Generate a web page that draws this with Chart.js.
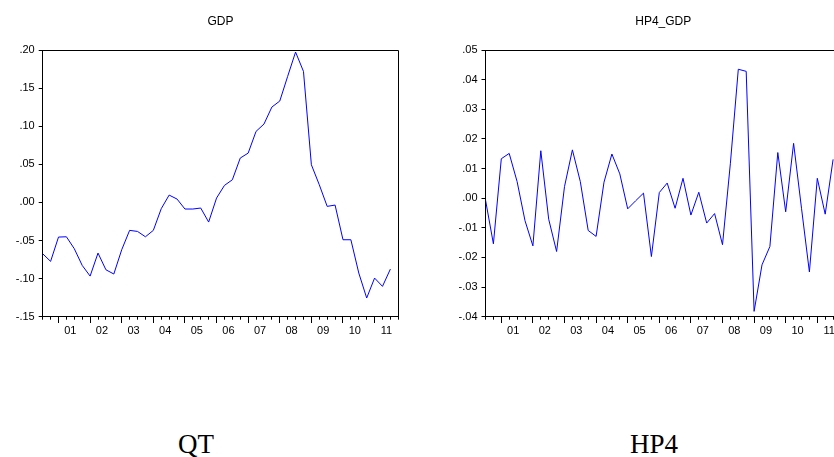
<!DOCTYPE html>
<html>
<head>
<meta charset="utf-8">
<script src="https://cdn.jsdelivr.net/npm/chart.js@4"></script>
<style>
  html, body { margin: 0; padding: 0; background: #fff; width: 834px; height: 457px; overflow: hidden; position: relative; }
  canvas { position: absolute; top: 0; }
  #cGdp { left: 0; }
  #cHp { left: 440px; }
  .cap { position: absolute; top: 431px; width: 120px; text-align: center; font-family: "Liberation Serif", "Times New Roman", serif; font-size: 27px; line-height: 1; color: #000; }
</style>
</head>
<body>
<canvas id="cGdp" width="420" height="345"></canvas>
<canvas id="cHp" width="440" height="345"></canvas>
<div class="cap" style="left:136px">QT</div>
<div class="cap" style="left:594px">HP4</div>
<script>
// quarters 2000Q3 .. 2011Q3, x axis runs one extra slot to 2011Q4
const quarters = [];
for (let y = 2000; y <= 2011; y++) for (let q = 1; q <= 4; q++) {
  if ((y === 2000 && q < 3) || (y === 2011 && q > 3)) continue;
  quarters.push(y + 'Q' + q);
}
const yearLabels = ['01', '02', '03', '04', '05', '06', '07', '08', '09', '10', '11'];

const gdp = [
  -0.0674, -0.0774, -0.0455, -0.0451, -0.0608, -0.0827, -0.0967, -0.0665,
  -0.0884, -0.0940, -0.0621, -0.0367, -0.0381, -0.0451, -0.0367, -0.0083,
  0.0096, 0.0044, -0.0087, -0.0087, -0.0074, -0.0258, 0.0057, 0.0223,
  0.0297, 0.0582, 0.0647, 0.0932, 0.1028, 0.1251, 0.1330, 0.1654,
  0.1973, 0.1719, 0.0494, 0.0232, -0.0052, -0.0035, -0.0490, -0.0490,
  -0.0927, -0.1255, -0.0993, -0.1102, -0.0875
];
const hp4 = [
  -0.0006, -0.0154, 0.0133, 0.0151, 0.0056, -0.0076, -0.0161, 0.0160,
  -0.0071, -0.0180, 0.0039, 0.0163, 0.0056, -0.0109, -0.0129, 0.0054,
  0.0149, 0.0082, -0.0036, -0.0009, 0.0017, -0.0197, 0.0019, 0.0051,
  -0.0034, 0.0067, -0.0057, 0.0020, -0.0084, -0.0052, -0.0157, 0.0118,
  0.0435, 0.0428, -0.0382, -0.0225, -0.0163, 0.0154, -0.0046, 0.0185,
  -0.0034, -0.0249, 0.0067, -0.0054, 0.0131
];
const gdpTicks = [-0.15, -0.10, -0.05, 0.00, 0.05, 0.10, 0.15, 0.20];
const hpTicks = [-0.04, -0.03, -0.02, -0.01, 0.00, 0.01, 0.02, 0.03, 0.04, 0.05];

const FONT = '"Liberation Sans", Arial, sans-serif';
const lastSlot = quarters.length; // 45
const minorTicks = [];
for (let i = 0; i <= lastSlot; i++) minorTicks.push(i);
const yearStart = quarters.map((q, i) => q.endsWith('Q1') ? i : -1).filter(i => i >= 0);
const labelPos = yearStart.map(i => i + 1.5);

function fmtY(v) {
  const s = Math.abs(v).toFixed(2).replace(/^0/, '');
  return (v < -1e-9 ? '-' : '') + s;
}

const framePlugin = {
  id: 'frame',
  afterDraw(chart, args, opts) {
    const a = chart.chartArea, ctx = chart.ctx;
    ctx.save();
    ctx.strokeStyle = '#000';
    ctx.lineWidth = 1;
    ctx.beginPath();
    ctx.moveTo(Math.round(a.left), Math.round(a.top) + 0.5);
    ctx.lineTo(Math.round(a.right) + 0.5, Math.round(a.top) + 0.5);
    ctx.lineTo(Math.round(a.right) + 0.5, Math.round(a.bottom));
    ctx.stroke();
    ctx.fillStyle = '#000';
    ctx.font = '12px ' + FONT;
    ctx.textAlign = 'center';
    ctx.textBaseline = 'middle';
    ctx.fillText(opts.text, (a.left + a.right) / 2, 22);
    ctx.restore();
  }
};

function makeChart(id, title, values, yTicks, axisW, padRight) {
  const yMin = yTicks[0], yMax = yTicks[yTicks.length - 1];
  return new Chart(document.getElementById(id), {
    type: 'line',
    data: {
      datasets: [{
        data: values.map((v, i) => ({ x: i, y: v })),
        borderColor: '#0000ff',
        borderWidth: 1,
        pointRadius: 0,
        tension: 0,
        fill: false
      }]
    },
    plugins: [framePlugin],
    options: {
      responsive: false,
      animation: false,
      devicePixelRatio: 1,
      layout: { padding: { top: 50, right: padRight, left: 0, bottom: 0 } },
      plugins: { legend: { display: false }, tooltip: { enabled: false }, frame: { text: title } },
      scales: {
        x: {
          type: 'linear', min: 0, max: lastSlot, position: 'bottom',
          afterBuildTicks: s => { s.ticks = minorTicks.concat(labelPos).map(v => ({ value: v })); },
          afterFit: s => { s.height = 28.3; },
          ticks: {
            autoSkip: false, maxRotation: 0, padding: 5, color: '#000',
            font: { family: FONT, size: 11 },
            callback: v => { const k = labelPos.indexOf(v); return k >= 0 ? yearLabels[k] : ''; }
          },
          grid: {
            drawOnChartArea: false, tickLength: 3,
            tickColor: c => (c.tick && labelPos.includes(c.tick.value)) ? 'rgba(0,0,0,0)' : '#000'
          },
          border: { color: '#000', width: 1 }
        },
        xMajor: {
          type: 'linear', axis: 'x', min: 0, max: lastSlot, position: { y: yMin },
          afterBuildTicks: s => { s.ticks = yearStart.map(v => ({ value: v })); },
          ticks: { display: false },
          grid: { drawOnChartArea: false, tickLength: 6, tickColor: '#000' },
          border: { display: false }
        },
        y: {
          type: 'linear', min: yMin, max: yMax,
          afterBuildTicks: s => { s.ticks = yTicks.map(v => ({ value: v })); },
          afterFit: s => { s.width = axisW; },
          ticks: { padding: 4, color: '#000', font: { family: FONT, size: 11 }, callback: v => fmtY(v) },
          grid: { drawOnChartArea: false, tickLength: 4, tickColor: '#000' },
          border: { color: '#000', width: 1 }
        }
      }
    }
  });
}

makeChart('cGdp', 'GDP', gdp, gdpTicks, 42.7, 21.7);
makeChart('cHp', 'HP4_GDP', hp4, hpTicks, 45.5, 39);
</script>
</body>
</html>
